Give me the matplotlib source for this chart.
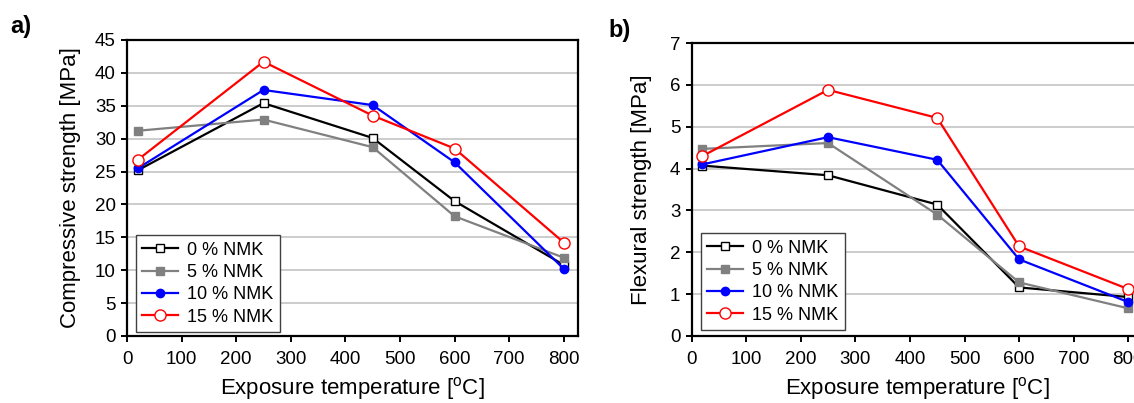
import matplotlib
matplotlib.use("Agg")
import matplotlib.pyplot as plt

plt.rcParams['font.family'] = ['Liberation Sans', 'DejaVu Sans']

temperature = [20, 250, 450, 600, 800]
series_labels = ['0 % NMK', '5 % NMK', '10 % NMK', '15 % NMK']

compressive_0 = [25.2, 35.4, 30.1, 20.5, 10.8]
compressive_5 = [31.2, 32.9, 28.7, 18.2, 11.9]
compressive_10 = [25.5, 37.4, 35.1, 26.4, 10.2]
compressive_15 = [26.8, 41.7, 33.5, 28.5, 14.2]

flexural_0 = [4.07, 3.84, 3.14, 1.16, 0.93]
flexural_5 = [4.47, 4.61, 2.90, 1.28, 0.66]
flexural_10 = [4.10, 4.75, 4.21, 1.83, 0.81]
flexural_15 = [4.30, 5.88, 5.21, 2.14, 1.12]

x_ticks = [0, 100, 200, 300, 400, 500, 600, 700, 800]

styles = [
    dict(color='black', marker='s', markerfacecolor='white', markeredgecolor='black', markersize=6),
    dict(color='#808080', marker='s', markerfacecolor='#808080', markeredgecolor='#808080', markersize=6),
    dict(color='#0000ff', marker='o', markerfacecolor='#0000ff', markeredgecolor='#0000ff', markersize=6),
    dict(color='#ff0000', marker='o', markerfacecolor='white', markeredgecolor='#ff0000', markersize=8,
         markeredgewidth=1),
]


def draw_panel(ax, data, ylim, ystep, ylabel, ylabelpad, legend_y):
    for values, label, st in zip(data, series_labels, styles):
        ax.plot(temperature, values, linewidth=1.6, label=label, clip_on=False, zorder=3, **st)
    ax.set_xlim(0, 826)
    ax.set_ylim(0, ylim)
    ax.set_xticks(x_ticks)
    ax.set_yticks(range(0, ylim + 1, ystep))
    ax.yaxis.grid(True, color='#c8c8c8', linewidth=1.3)
    ax.set_axisbelow(True)
    for sp in ax.spines.values():
        sp.set_linewidth(1.6)
    ax.tick_params(labelsize=13.5, width=1.4, length=4, direction='out')
    ax.tick_params(axis='x', pad=7)
    ax.tick_params(axis='y', pad=4)
    ax.set_xlabel('Exposure temperature [$\\mathregular{^{o}}$C]', fontsize=16, labelpad=5)
    ax.set_ylabel(ylabel, fontsize=16, labelpad=ylabelpad)
    leg = ax.legend(loc='lower left', bbox_to_anchor=(0.02, legend_y), fontsize=13,
                    labelspacing=0.3, handlelength=2.0, handletextpad=0.5,
                    borderpad=0.35, borderaxespad=0, fancybox=False, framealpha=1)
    leg.get_frame().set_edgecolor('#404040')
    leg.get_frame().set_linewidth(1.0)


fig = plt.figure(figsize=(11.34, 4.03), dpi=100)
ax_a = fig.add_axes([0.112, 0.1663, 0.3977, 0.7345])
ax_b = fig.add_axes([0.6098, 0.1663, 0.3977, 0.727])

draw_panel(ax_a, [compressive_0, compressive_5, compressive_10, compressive_15],
           45, 5, 'Compressive strength [MPa]', 10, 0.013)
draw_panel(ax_b, [flexural_0, flexural_5, flexural_10, flexural_15],
           7, 1, 'Flexural strength [MPa]', 13, 0.02)

fig.text(0.009, 0.935, 'a)', fontsize=17, fontweight='bold', va='center')
fig.text(0.537, 0.925, 'b)', fontsize=17, fontweight='bold', va='center')

fig.savefig('out.png', dpi=100)
